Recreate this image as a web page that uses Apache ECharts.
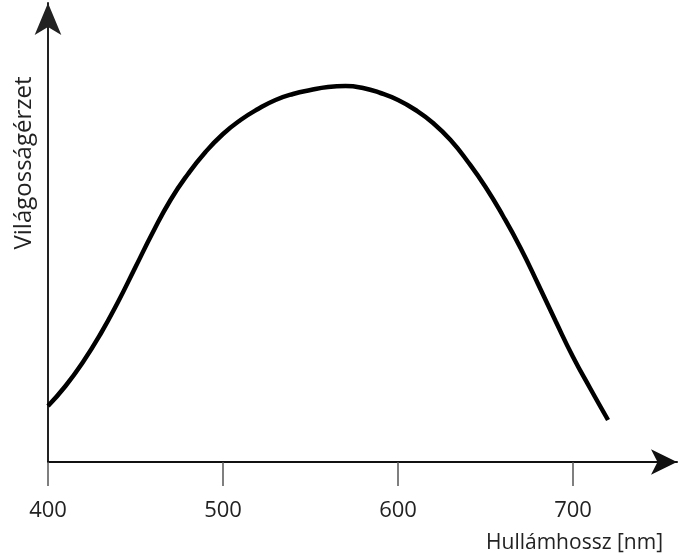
<!DOCTYPE html>
<html>
<head>
<meta charset="utf-8">
<script src="https://cdn.jsdelivr.net/npm/echarts@6/dist/echarts.min.js"></script>
<style>
  html, body { margin: 0; padding: 0; background: #fff; }
  #chart { width: 678px; height: 557px; }
</style>
</head>
<body>
<div id="chart"></div>
<script>
// wavelength (nm) and relative brightness sensation (arbitrary units)
var wavelengths = [400, 410, 420, 430, 440, 450, 460, 470, 480, 490, 500, 510, 520, 530, 540, 550, 560,
                   570, 580, 590, 600, 610, 620, 630, 640, 650, 660, 670, 680, 690, 700, 710, 720];
var brightness = [56, 76, 100, 128, 160, 195, 230, 262, 288, 310, 328, 342, 353, 362, 368, 372, 375,
                  376, 374, 369, 362, 352, 339, 322, 300, 275, 246, 214, 178, 141, 105, 73, 42];
var xTicks = [400, 500, 600, 700];
var xTitle = 'Hullámhossz [nm]';
var yTitle = 'Világosságérzet';

var chart = echarts.init(document.getElementById('chart'));

var points = wavelengths.map(function (w, i) { return [w, brightness[i]]; });

chart.setOption({
  backgroundColor: '#ffffff',
  animation: false,
  grid: { left: 48, right: 1, top: 3, bottom: 95 },
  xAxis: {
    type: 'value',
    min: 400,
    max: 759.4,
    interval: 100,
    axisLine: {
      show: true,
      symbol: ['none', 'arrow'],
      symbolSize: [19, 26],
      lineStyle: { color: '#111', width: 2 }
    },
    axisTick: {
      show: true,
      length: 24,
      customValues: xTicks,
      lineStyle: { color: '#555', width: 1.5 }
    },
    axisLabel: {
      customValues: xTicks,
      margin: 38,
      color: '#222',
      fontFamily: 'Open Sans',
      fontSize: 22
    },
    splitLine: { show: false }
  },
  yAxis: {
    type: 'value',
    min: 0,
    max: 459,
    axisLine: {
      show: true,
      symbol: ['none', 'arrow'],
      symbolSize: [20, 32],
      lineStyle: { color: '#222', width: 2 }
    },
    axisTick: { show: false },
    axisLabel: { show: false },
    splitLine: { show: false }
  },
  graphic: [
    {
      type: 'text',
      x: 24,
      y: 163,
      rotation: Math.PI / 2,
      style: {
        text: yTitle,
        align: 'center',
        verticalAlign: 'middle',
        fill: '#222',
        font: '24px "Open Sans"'
      }
    },
    {
      type: 'text',
      x: 663,
      y: 543,
      style: {
        text: xTitle,
        align: 'right',
        verticalAlign: 'middle',
        fill: '#222',
        font: '21px "Open Sans"'
      }
    }
  ],
  series: [{
    type: 'line',
    data: points,
    smooth: true,
    showSymbol: false,
    lineStyle: { color: '#000', width: 4.5 }
  }]
});
</script>
</body>
</html>
